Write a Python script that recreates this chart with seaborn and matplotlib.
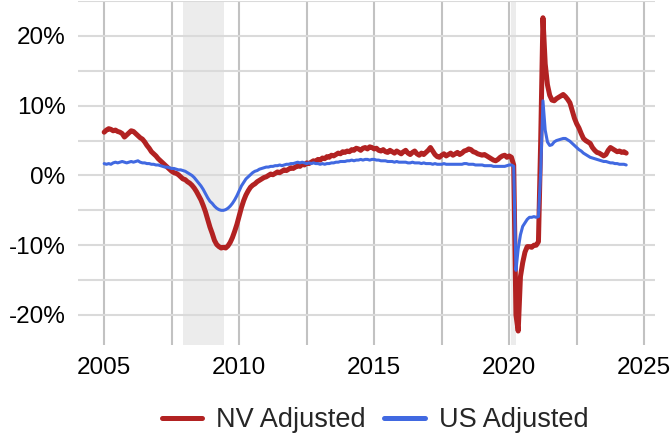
import numpy as np
import pandas as pd
import seaborn as sns
import matplotlib.pyplot as plt
from matplotlib.ticker import MultipleLocator, FuncFormatter
from matplotlib.lines import Line2D

# monthly values, Jan 2005 .. May 2024 (percent)
nv_adjusted = [
    6.2, 6.5, 6.7, 6.6, 6.4, 6.5, 6.3, 6.2, 6.0, 5.5, 5.8, 6.1,          # 2005
    6.4, 6.3, 6.0, 5.7, 5.4, 5.2, 4.8, 4.3, 3.9, 3.4, 3.1, 2.8,          # 2006
    2.4, 2.1, 1.8, 1.5, 1.2, 0.9, 0.6, 0.4, 0.3, 0.1, -0.2, -0.5,        # 2007
    -0.6, -0.9, -1.1, -1.4, -1.8, -2.3, -2.9, -3.5, -4.3, -5.2, -6.3, -7.4,  # 2008
    -8.3, -9.3, -9.9, -10.2, -10.4, -10.3, -10.4, -10.1, -9.6, -8.9, -8.0, -7.0,  # 2009
    -5.8, -4.6, -3.6, -2.8, -2.2, -1.7, -1.4, -1.2, -0.9, -0.7, -0.5, -0.3,  # 2010
    -0.2, 0.0, 0.2, 0.1, 0.3, 0.5, 0.4, 0.6, 0.8, 0.7, 0.9, 1.1,         # 2011
    1.0, 1.2, 1.4, 1.3, 1.6, 1.5, 1.8, 1.7, 1.9, 2.1, 2.0, 2.3,          # 2012
    2.2, 2.5, 2.4, 2.7, 2.6, 2.9, 2.8, 3.0, 3.2, 3.1, 3.4, 3.3,          # 2013
    3.5, 3.4, 3.7, 3.6, 3.9, 3.8, 3.6, 3.9, 4.0, 3.8, 4.1, 4.0,          # 2014
    3.8, 3.9, 3.6, 3.5, 3.7, 3.4, 3.3, 3.6, 3.4, 3.2, 3.5, 3.3,          # 2015
    3.1, 3.4, 3.6, 3.2, 3.0, 3.3, 3.5, 3.1, 2.9, 3.2, 3.0, 3.3,          # 2016
    3.6, 4.0, 3.5, 3.0, 2.7, 2.6, 2.9, 3.1, 2.8, 3.0, 3.2, 2.9,          # 2017
    3.1, 3.3, 3.0, 3.2, 3.5, 3.6, 3.8, 3.7, 3.4, 3.3, 3.1, 3.0,          # 2018
    2.9, 3.0, 2.8, 2.6, 2.4, 2.2, 2.1, 2.3, 2.6, 2.8, 2.9, 2.6,          # 2019
    2.8, 2.6, 1.5, -20.0, -22.3, -14.5, -12.5, -11.0, -10.2, -10.2, -10.3, -10.0,  # 2020
    -10.0, -9.5, 5.0, 22.6, 16.0, 13.0, 11.5, 10.8, 10.7, 11.0, 11.2, 11.4,  # 2021
    11.6, 11.3, 10.9, 10.4, 9.3, 8.2, 7.4, 6.8, 6.0, 5.3, 5.0, 4.8,      # 2022
    4.6, 4.0, 3.6, 3.3, 3.2, 3.0, 2.8, 3.0, 3.6, 4.0, 3.8, 3.6,          # 2023
    3.4, 3.5, 3.3, 3.4, 3.2,                                             # 2024
]

us_adjusted = [
    1.7, 1.6, 1.7, 1.6, 1.8, 1.9, 1.8, 1.9, 2.0, 1.9, 1.8, 1.9,          # 2005
    2.0, 1.9, 2.0, 2.1, 1.9, 1.8, 1.8, 1.7, 1.7, 1.6, 1.6, 1.5,          # 2006
    1.5, 1.4, 1.3, 1.2, 1.2, 1.1, 1.0, 1.0, 0.9, 0.8, 0.8, 0.7,          # 2007
    0.6, 0.4, 0.2, 0.0, -0.3, -0.7, -1.1, -1.5, -2.0, -2.6, -3.2, -3.7,  # 2008
    -4.0, -4.4, -4.7, -4.9, -5.0, -5.0, -4.9, -4.7, -4.4, -4.0, -3.5, -2.9,  # 2009
    -2.2, -1.5, -1.0, -0.5, -0.2, 0.1, 0.4, 0.6, 0.7, 0.9, 1.0, 1.1,     # 2010
    1.2, 1.2, 1.3, 1.3, 1.4, 1.4, 1.5, 1.4, 1.5, 1.6, 1.6, 1.7,          # 2011
    1.7, 1.8, 1.9, 1.8, 1.9, 1.8, 1.7, 1.8, 1.7, 1.8, 1.7, 1.7,          # 2012
    1.6, 1.7, 1.6, 1.7, 1.7, 1.8, 1.8, 1.9, 1.9, 2.0, 2.0, 2.0,          # 2013
    2.1, 2.1, 2.2, 2.1, 2.2, 2.2, 2.3, 2.2, 2.3, 2.3, 2.2, 2.3,          # 2014
    2.3, 2.2, 2.2, 2.1, 2.1, 2.1, 2.0, 2.0, 2.0, 1.9, 2.0, 1.9,          # 2015
    1.9, 1.9, 1.9, 1.8, 1.8, 1.9, 1.8, 1.8, 1.8, 1.7, 1.8, 1.7,          # 2016
    1.7, 1.7, 1.6, 1.7, 1.6, 1.6, 1.6, 1.7, 1.6, 1.6, 1.6, 1.6,          # 2017
    1.6, 1.6, 1.6, 1.6, 1.7, 1.7, 1.6, 1.6, 1.6, 1.5, 1.5, 1.5,          # 2018
    1.5, 1.4, 1.4, 1.4, 1.4, 1.3, 1.3, 1.3, 1.3, 1.3, 1.3, 1.4,          # 2019
    1.5, 1.5, 1.3, -13.6, -10.5, -8.5, -7.3, -6.8, -6.3, -6.0, -6.0, -5.9,  # 2020
    -6.0, -5.9, 0.5, 10.7, 6.5, 4.8, 4.3, 4.4, 4.8, 5.0, 5.1, 5.2,       # 2021
    5.3, 5.3, 5.1, 4.9, 4.6, 4.3, 4.0, 3.7, 3.5, 3.2, 3.0, 2.8,          # 2022
    2.6, 2.5, 2.4, 2.3, 2.2, 2.1, 2.0, 2.0, 1.9, 1.8, 1.8, 1.7,          # 2023
    1.7, 1.6, 1.6, 1.6, 1.5,                                             # 2024
]

series_names = ['NV Adjusted', 'US Adjusted']
series_colors = ['#B22222', '#4169E1']
recessions = [(2007.92, 2009.42), (2020.08, 2020.25)]

years = 2005 + np.arange(len(nv_adjusted)) / 12
df = pd.DataFrame({
    'date': np.concatenate([years, years]),
    'value': nv_adjusted + us_adjusted,
    'series': [series_names[0]] * len(years) + [series_names[1]] * len(years),
})

sns.set_style('white')
plt.rcParams['font.family'] = ['Liberation Sans', 'DejaVu Sans']

fig = plt.figure(figsize=(6.72, 4.36), dpi=100)
ax = fig.add_axes([78 / 672, 1 - 345 / 436, (655 - 78) / 672, 344 / 436])

for start, end in recessions:
    ax.axvspan(start, end, color='#ececec', lw=0, zorder=0.1)

sns.lineplot(data=df[df.series == series_names[0]], x='date', y='value',
             color=series_colors[0], lw=3.6, ax=ax, estimator=None, zorder=3)
sns.lineplot(data=df[df.series == series_names[1]], x='date', y='value',
             color=series_colors[1], lw=2.2, ax=ax, estimator=None, zorder=4)

ax.set_xlim(2004.03, 2025.40)
ax.set_ylim(-24.3, 25)
ax.xaxis.set_major_locator(MultipleLocator(5))
ax.xaxis.set_minor_locator(MultipleLocator(2.5))
ax.yaxis.set_major_locator(MultipleLocator(10))
ax.yaxis.set_minor_locator(MultipleLocator(5))
ax.yaxis.set_major_formatter(FuncFormatter(lambda v, p: f'{v:.0f}%'))
ax.set_axisbelow(True)
ax.grid(axis='x', which='both', color='#c2c2c2', lw=1.5)
ax.grid(axis='y', which='both', color='#dadada', lw=1.5)
ax.tick_params(which='both', length=0, labelsize=17.5, colors='black')
ax.tick_params(axis='y', pad=9)
ax.tick_params(axis='x', pad=9)
for s in ax.spines.values():
    s.set_visible(False)
ax.set_xlabel('')
ax.set_ylabel('')

handles = [Line2D([], [], color=c, lw=3.6) for c in series_colors]
fig.legend(handles, series_names, loc='center', bbox_to_anchor=(0.558, 16 / 436),
           ncol=2, frameon=False, fontsize=19.5, handlelength=1.5,
           handletextpad=0.5, columnspacing=0.7)

fig.savefig('out.png', dpi=100)
